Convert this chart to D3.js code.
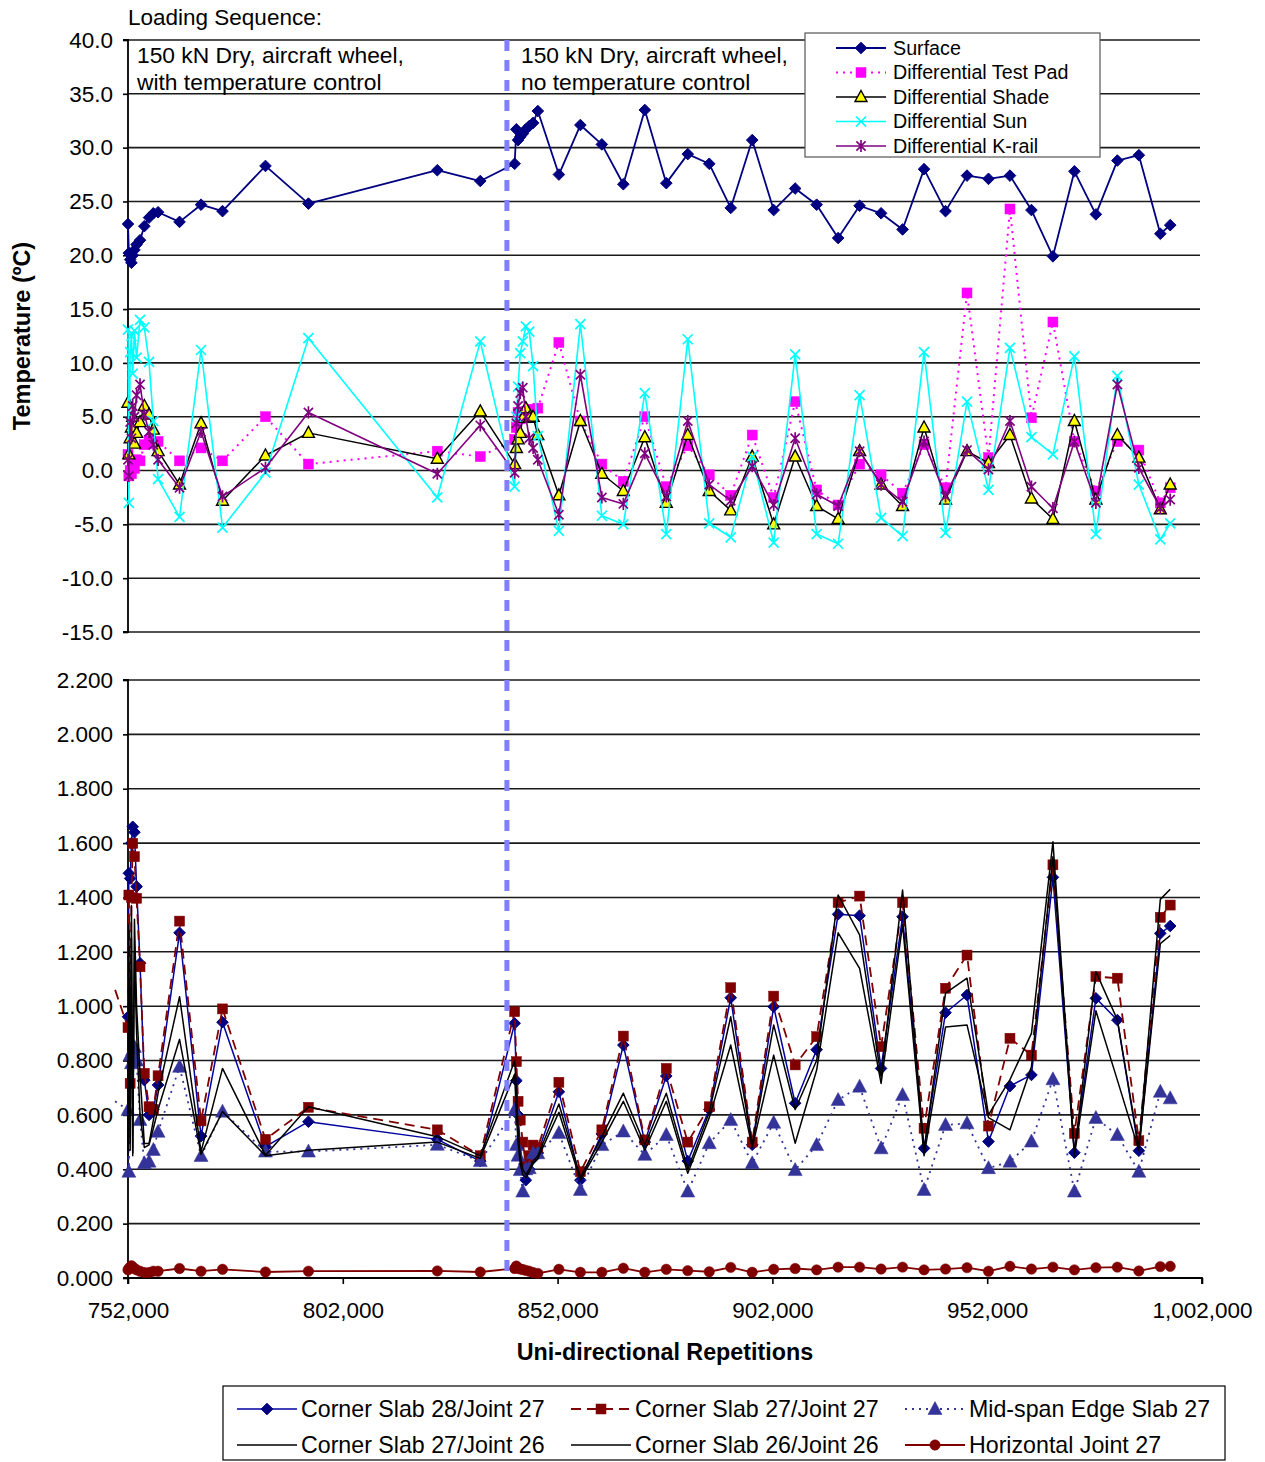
<!DOCTYPE html>
<html>
<head>
<meta charset="utf-8">
<script src="https://d3js.org/d3.v7.min.js"></script>
<style>
  html, body { margin: 0; padding: 0; background: #fff; }
  svg text { font-family: "Liberation Sans", Arial, sans-serif; fill: #000; }
</style>
</head>
<body>
<svg id="chart" width="1265" height="1462"></svg>
<script>
// ---------------- DATA ----------------
const reps = [749000,
  752000, 752200, 752500, 752800, 753100, 753500, 754000, 754800, 755800, 756900, 757900, 759000,
  764000, 769000, 774000, 784000, 794000, 824000, 834000,
  842000, 842400, 842800, 843300, 843900, 844600, 845400, 846300, 847400,
  852300, 857300, 862300, 867300, 872300, 877300, 882300, 887300, 892300, 897300,
  902300, 907300, 912300, 917300, 922300, 927300, 932300, 937300, 942300, 947300,
  952300, 957300, 962300, 967300, 972300, 977300, 982300, 987300, 992300, 994600];

const phaseChange = 840200;

const surface = [null,
  22.9, 20.2, 19.6, 19.3, 20.0, 20.5, 21.0, 21.4, 22.7, 23.5, 23.9, 24.0,
  23.1, 24.7, 24.1, 28.3, 24.8, 27.9, 26.9,
  28.5, 31.7, 30.7, 31.0, 31.3, 31.7, 32.0, 32.3, 33.4,
  27.5, 32.1, 30.3, 26.6, 33.5, 26.7, 29.4, 28.5, 24.4, 30.7,
  24.2, 26.2, 24.7, 21.6, 24.6, 23.9, 22.4, 28.0, 24.1, 27.4,
  27.1, 27.4, 24.2, 19.9, 27.8, 23.8, 28.8, 29.3, 22.0, 22.8];

const diffTestPad = [null,
  1.5, -0.5, 0.0, -0.3, 0.5, 0.2, 1.0, 0.9, 2.4, 2.8, 2.5, 2.7,
  0.9, 2.1, 0.9, 5.0, 0.6, 1.8, 1.3,
  2.9, 4.0, 5.4, 4.8, 5.0, 5.5, 5.0, 5.7, 5.8,
  11.9, 4.6, 0.6, -1.0, 5.0, -1.5, 2.3, -0.4, -2.3, 3.3,
  -2.5, 6.4, -1.8, -3.2, 0.6, -0.4, -2.1, 2.4, -1.6, 16.5,
  1.2, 24.3, 4.9, 13.8, 2.7, -1.9, 2.7, 1.9, -3.0, -1.6];

const diffShade = [null,
  6.3, 1.5, 3.0, 4.0, 5.0, 2.5, 3.5, 4.5, 6.0, 5.2, 3.8, 1.8,
  -1.3, 4.4, -2.8, 1.4, 3.5, 1.1, 5.5,
  0.6, 2.1, 2.9, 3.5, 4.9, 5.8, 4.9, 5.0, 3.3,
  -2.3, 4.6, -0.3, -1.9, 3.1, -3.0, 3.3, -1.9, -3.7, 1.3,
  -5.0, 1.3, -3.3, -4.5, 1.8, -1.3, -3.3, 4.0, -2.7, 1.8,
  0.7, 3.3, -2.6, -4.5, 4.6, -2.7, 3.3, 1.2, -3.6, -1.3];

const diffSun = [null,
  13.1, -3.0, 11.0, 12.5, 9.0, 13.0, 10.5, 14.0, 13.3, 10.1, 4.6, -0.8,
  -4.3, 11.2, -5.3, -0.2, 12.3, -2.5, 12.0,
  -1.5, 5.0, 7.8, 10.9, 12.0, 13.4, 12.9, 9.7, 3.2,
  -5.6, 13.6, -4.2, -5.0, 7.2, -5.9, 12.2, -4.9, -6.2, 1.3,
  -6.7, 10.8, -5.9, -6.8, 7.0, -4.4, -6.1, 11.0, -5.8, 6.4,
  -1.8, 11.4, 3.1, 1.5, 10.6, -5.9, 8.8, -1.3, -6.4, -4.9];

const diffKrail = [null,
  1.0, -0.5, 4.5, 3.0, 6.0, 5.0, 7.0, 8.0, 5.2, 3.6, 2.4, 1.0,
  -1.6, 3.6, -2.4, 0.25, 5.4, -0.3, 4.2,
  -0.2, 4.4, 6.0, 7.2, 7.7, 5.0, 3.0, 2.1, 1.0,
  -4.1, 8.9, -2.5, -3.1, 1.6, -2.4, 4.6, -1.3, -2.8, 0.4,
  -3.2, 3.0, -2.2, -3.3, 1.8, -1.3, -2.9, 2.7, -2.4, 1.9,
  0.1, 4.6, -1.5, -3.5, 2.7, -3.0, 8.0, 0.25, -3.5, -2.7];

const cornerSlab28J27 = [null,
  0.961, 1.489, 1.470, 1.600, 1.660, 1.640, 1.440, 1.158, 0.728, 0.600, 0.620, 0.710,
  1.270, 0.522, 0.941, 0.483, 0.575, 0.510, 0.430,
  0.937, 0.726, 0.600, 0.489, 0.400, 0.360, 0.400, 0.440, 0.460,
  0.685, 0.360, 0.530, 0.857, 0.500, 0.743, 0.430, 0.620, 1.031, 0.490,
  0.998, 0.643, 0.840, 1.338, 1.333, 0.771, 1.329, 0.477, 0.976, 1.041,
  0.502, 0.706, 0.747, 1.474, 0.461, 1.029, 0.949, 0.468, 1.268, 1.295];

const cornerSlab27J27 = [1.060,
  0.921, 1.409, 0.716, 1.400, 1.599, 1.550, 1.397, 1.145, 0.753, 0.630, 0.620, 0.744,
  1.313, 0.578, 0.990, 0.510, 0.628, 0.545, 0.450,
  0.980, 0.796, 0.650, 0.581, 0.500, 0.416, 0.450, 0.489, 0.480,
  0.720, 0.391, 0.545, 0.890, 0.508, 0.771, 0.500, 0.630, 1.068, 0.500,
  1.037, 0.784, 0.888, 1.381, 1.405, 0.851, 1.381, 0.551, 1.066, 1.188,
  0.559, 0.882, 0.820, 1.520, 0.532, 1.109, 1.103, 0.505, 1.327, 1.372];

const midSpanEdge27 = [0.650,
  0.618, 0.391, 0.820, 0.790, 0.839, 0.850, 0.800, 0.581, 0.422, 0.428, 0.471, 0.538,
  0.777, 0.449, 0.612, 0.465, 0.465, 0.490, 0.430,
  0.618, 0.489, 0.450, 0.397, 0.318, 0.400, 0.404, 0.459, 0.459,
  0.533, 0.324, 0.489, 0.539, 0.453, 0.526, 0.318, 0.496, 0.581, 0.422,
  0.571, 0.397, 0.489, 0.655, 0.704, 0.477, 0.673, 0.324, 0.563, 0.569,
  0.404, 0.428, 0.502, 0.731, 0.318, 0.589, 0.526, 0.391, 0.685, 0.661];

const cornerSlab27J26 = [null,
  0.470, 1.300, 0.500, 1.370, 0.450, 1.320, 1.000, 0.750, 0.495, 0.495, 0.580, 0.680,
  1.035, 0.465, 0.771, 0.452, 0.630, 0.520, 0.450,
  0.800, 0.700, 0.550, 0.450, 0.400, 0.380, 0.400, 0.430, 0.450,
  0.640, 0.370, 0.520, 0.680, 0.490, 0.680, 0.400, 0.610, 0.961, 0.490,
  0.931, 0.620, 0.800, 1.409, 1.262, 0.740, 1.427, 0.470, 1.048, 1.103,
  0.600, 0.730, 0.900, 1.605, 0.460, 1.127, 0.950, 0.480, 1.393, 1.430];

const cornerSlab26J26 = [null,
  0.450, 1.100, 0.470, 1.250, 0.460, 1.200, 0.900, 0.600, 0.480, 0.490, 0.550, 0.620,
  0.878, 0.455, 0.612, 0.450, 0.470, 0.500, 0.440,
  0.750, 0.600, 0.500, 0.420, 0.380, 0.370, 0.390, 0.420, 0.440,
  0.610, 0.360, 0.500, 0.650, 0.470, 0.650, 0.385, 0.590, 0.857, 0.480,
  0.820, 0.496, 0.765, 1.270, 1.139, 0.716, 1.300, 0.450, 0.923, 0.931,
  0.590, 0.545, 0.777, 1.550, 0.450, 0.983, 0.728, 0.470, 1.230, 1.260];

const horizontalJ27 = [null,
  0.030, 0.035, 0.040, 0.045, 0.040, 0.035, 0.030, 0.025, 0.020, 0.020, 0.025, 0.025,
  0.035, 0.025, 0.032, 0.022, 0.025, 0.026, 0.022,
  0.035, 0.044, 0.037, 0.033, 0.031, 0.028, 0.025, 0.020, 0.017,
  0.032, 0.021, 0.021, 0.036, 0.021, 0.032, 0.027, 0.023, 0.039, 0.021,
  0.032, 0.035, 0.030, 0.040, 0.040, 0.033, 0.040, 0.030, 0.033, 0.038,
  0.025, 0.043, 0.033, 0.040, 0.030, 0.038, 0.040, 0.026, 0.042, 0.043];

const topTicks = [40, 35, 30, 25, 20, 15, 10, 5, 0, -5, -10, -15];
const botTicks = [0, 0.2, 0.4, 0.6, 0.8, 1.0, 1.2, 1.4, 1.6, 1.8, 2.0, 2.2];
const xTicks = [752000, 802000, 852000, 902000, 952000, 1002000];

const topSeriesNames = ["Surface", "Differential Test Pad", "Differential Shade", "Differential Sun", "Differential K-rail"];
const botSeriesNames = ["Corner Slab 28/Joint 27", "Corner Slab 27/Joint 27", "Mid-span Edge Slab 27",
                        "Corner Slab 27/Joint 26", "Corner Slab 26/Joint 26", "Horizontal Joint 27"];

// ---------------- LAYOUT ----------------
const svg = d3.select("#chart");
const x = d3.scaleLinear().domain([752000, 1002000]).range([128, 1202]);
const yTop = d3.scaleLinear().domain([-15, 40]).range([632, 40]);
const yBot = d3.scaleLinear().domain([0, 2.2]).range([1278, 680]);
const hyphen = f => (d => f(d).replace("\u2212", "-"));

const topSeries = [
  {name: topSeriesNames[0], vals: surface,     color: "#000080", width: 1.8, dash: null,  marker: "diamond", mfill: "#000080", mstroke: "#000080"},
  {name: topSeriesNames[1], vals: diffTestPad, color: "#FF00FF", width: 2,   dash: "2,5", marker: "square",  mfill: "#FF00FF", mstroke: "#FF00FF"},
  {name: topSeriesNames[2], vals: diffShade,   color: "#000000", width: 1.5, dash: null,  marker: "triangle",mfill: "#FFFF00", mstroke: "#000000"},
  {name: topSeriesNames[3], vals: diffSun,     color: "#00FFFF", width: 1.6, dash: null,  marker: "x",       mfill: "none",    mstroke: "#00FFFF"},
  {name: topSeriesNames[4], vals: diffKrail,   color: "#800080", width: 1.6, dash: null,  marker: "star",    mfill: "none",    mstroke: "#800080"}
];
const botSeries = [
  {name: botSeriesNames[0], vals: cornerSlab28J27, color: "#0000A0", width: 1.5, dash: null,  marker: "diamond", mfill: "#000080", mstroke: "#000080"},
  {name: botSeriesNames[1], vals: cornerSlab27J27, color: "#800000", width: 1.8, dash: "10,6", marker: "square", mfill: "#800000", mstroke: "#800000"},
  {name: botSeriesNames[2], vals: midSpanEdge27,   color: "#333399", width: 1.8, dash: "2,5", marker: "triangle2", mfill: "#333399", mstroke: "#333399"},
  {name: botSeriesNames[3], vals: cornerSlab27J26, color: "#000000", width: 1.5, dash: null,  marker: null},
  {name: botSeriesNames[4], vals: cornerSlab26J26, color: "#000000", width: 1.5, dash: null,  marker: null},
  {name: botSeriesNames[5], vals: horizontalJ27,   color: "#800000", width: 1.8, dash: null,  marker: "circle", mfill: "#800000", mstroke: "#800000"}
];

function drawMarker(g, type, cx, cy, s) {
  if (!type) return;
  if (type === "diamond") {
    const r = 5.8;
    g.append("path").attr("d", `M${cx},${cy-r}L${cx+r},${cy}L${cx},${cy+r}L${cx-r},${cy}Z`)
      .attr("fill", s.mfill).attr("stroke", s.mstroke).attr("stroke-width", 1);
  } else if (type === "square") {
    const h = 5;
    g.append("rect").attr("x", cx-h).attr("y", cy-h).attr("width", 2*h).attr("height", 2*h)
      .attr("fill", s.mfill).attr("stroke", s.mstroke).attr("stroke-width", 0.5);
  } else if (type === "triangle") {
    g.append("path").attr("d", `M${cx},${cy-6.5}L${cx+6},${cy+4.5}L${cx-6},${cy+4.5}Z`)
      .attr("fill", s.mfill).attr("stroke", s.mstroke).attr("stroke-width", 1.4);
  } else if (type === "triangle2") {
    g.append("path").attr("d", `M${cx},${cy-7.5}L${cx+7},${cy+5.5}L${cx-7},${cy+5.5}Z`)
      .attr("fill", s.mfill).attr("stroke", s.mstroke).attr("stroke-width", 0.5);
  } else if (type === "x") {
    const r = 5;
    g.append("path").attr("d", `M${cx-r},${cy-r}L${cx+r},${cy+r}M${cx-r},${cy+r}L${cx+r},${cy-r}`)
      .attr("fill", "none").attr("stroke", s.mstroke).attr("stroke-width", 1.7);
  } else if (type === "star") {
    const r = 4.6;
    g.append("path").attr("d", `M${cx-r},${cy-r}L${cx+r},${cy+r}M${cx-r},${cy+r}L${cx+r},${cy-r}M${cx},${cy-r-1.5}L${cx},${cy+r+1.5}`)
      .attr("fill", "none").attr("stroke", s.mstroke).attr("stroke-width", 1.7);
  } else if (type === "circle") {
    g.append("circle").attr("cx", cx).attr("cy", cy).attr("r", 5.2)
      .attr("fill", s.mfill).attr("stroke", s.mstroke).attr("stroke-width", 0.5);
  }
}

// ---------------- GRID & AXES ----------------
const grid = svg.append("g");
topTicks.forEach(t => {
  grid.append("line").attr("x1", 128).attr("x2", 1200).attr("y1", yTop(t)).attr("y2", yTop(t))
    .attr("stroke", "#1a1a1a").attr("stroke-width", 1.6);
});
botTicks.forEach(t => {
  if (t === 0) return;
  grid.append("line").attr("x1", 128).attr("x2", 1200).attr("y1", yBot(t)).attr("y2", yBot(t))
    .attr("stroke", "#1a1a1a").attr("stroke-width", 1.6);
});

const tickFont = 22.5;
const yAxisTop = d3.axisLeft(yTop).tickValues(topTicks).tickFormat(hyphen(d3.format(".1f"))).tickSize(5).tickPadding(10);
const gyt = svg.append("g").attr("transform", "translate(128,0)").call(yAxisTop);
const yAxisBot = d3.axisLeft(yBot).tickValues(botTicks).tickFormat(hyphen(d3.format(".3f"))).tickSize(5).tickPadding(10);
const gyb = svg.append("g").attr("transform", "translate(128,0)").call(yAxisBot);
const xAxis = d3.axisBottom(x).tickValues(xTicks).tickFormat(d3.format(",")).tickSize(6).tickPadding(18);
const gx = svg.append("g").attr("transform", "translate(0,1278)").call(xAxis);

[gyt, gyb, gx].forEach(g => {
  g.select(".domain").attr("stroke", "#000").attr("stroke-width", 1.8);
  g.selectAll(".tick line").attr("stroke", "#000").attr("stroke-width", 1.6);
  g.selectAll(".tick text").attr("font-size", tickFont).attr("font-family", "Liberation Sans, Arial, sans-serif").attr("fill", "#000");
});
gyt.select(".domain").attr("d", "M-5,40H0V632H-5");
gyb.select(".domain").attr("d", "M-5,680H0V1278H-5");
gx.select(".domain").attr("d", "M128,6V0H1202V6");

// ---------------- SERIES ----------------
function drawSeries(list, yScale) {
  list.forEach(s => {
    const pts = reps.map((r, i) => ({r, v: s.vals[i]}));
    const line = d3.line().defined(d => d.v != null).x(d => x(d.r)).y(d => yScale(d.v));
    const g = svg.append("g");
    g.append("path").datum(pts).attr("d", line).attr("fill", "none")
      .attr("stroke", s.color).attr("stroke-width", s.width)
      .attr("stroke-dasharray", s.dash).attr("stroke-linejoin", "round");
    pts.filter(d => d.v != null && d.r >= 752000).forEach(d => drawMarker(g, s.marker, x(d.r), yScale(d.v), s));
  });
}
drawSeries(topSeries, yTop);
drawSeries(botSeries, yBot);

// phase change line
svg.append("line").attr("x1", x(phaseChange)).attr("x2", x(phaseChange)).attr("y1", 40).attr("y2", 1278)
  .attr("stroke", "#8080FF").attr("stroke-width", 5).attr("stroke-dasharray", "11,9");

// ---------------- TEXT ----------------
svg.append("text").attr("x", 128).attr("y", 25).attr("font-size", 22.5).text("Loading Sequence:");
svg.append("text").attr("x", 137).attr("y", 63).attr("font-size", 22.8).text("150 kN Dry, aircraft wheel,");
svg.append("text").attr("x", 137).attr("y", 90).attr("font-size", 22.8).text("with temperature control");
svg.append("text").attr("x", 521).attr("y", 63).attr("font-size", 22.8).text("150 kN Dry, aircraft wheel,");
svg.append("text").attr("x", 521).attr("y", 90).attr("font-size", 22.8).text("no temperature control");

svg.append("text").attr("transform", "translate(30,336) rotate(-90)").attr("text-anchor", "middle")
  .attr("font-size", 23.5).attr("font-weight", "bold").text("Temperature (ºC)");
svg.append("text").attr("x", 665).attr("y", 1360).attr("text-anchor", "middle")
  .attr("font-size", 23.3).attr("font-weight", "bold").text("Uni-directional Repetitions");

// ---------------- LEGENDS ----------------
const lt = svg.append("g");
lt.append("rect").attr("x", 805).attr("y", 33).attr("width", 295).attr("height", 124)
  .attr("fill", "#fff").attr("stroke", "#555").attr("stroke-width", 1.2);
topSeries.forEach((s, i) => {
  const yy = 48 + i * 24.5;
  lt.append("line").attr("x1", 836).attr("x2", 886).attr("y1", yy).attr("y2", yy)
    .attr("stroke", s.color).attr("stroke-width", s.width).attr("stroke-dasharray", s.dash);
  drawMarker(lt, s.marker, 861, yy, s);
  lt.append("text").attr("x", 893).attr("y", yy + 6.5).attr("font-size", 19.7).text(s.name);
});

const lb = svg.append("g");
lb.append("rect").attr("x", 223).attr("y", 1386).attr("width", 1002).attr("height", 74)
  .attr("fill", "#fff").attr("stroke", "#000").attr("stroke-width", 1.2);
const legCols = [237, 571, 905];
botSeries.forEach((s, k) => {
  const col = k % 3, row = Math.floor(k / 3);
  const x0 = legCols[col], yy = 1409 + row * 36;
  lb.append("line").attr("x1", x0).attr("x2", x0 + 60).attr("y1", yy).attr("y2", yy)
    .attr("stroke", s.color).attr("stroke-width", s.width).attr("stroke-dasharray", s.dash);
  drawMarker(lb, s.marker, x0 + 30, yy, s);
  lb.append("text").attr("x", x0 + 64).attr("y", yy + 7.5).attr("font-size", 23.2).text(s.name);
});
</script>
</body>
</html>
